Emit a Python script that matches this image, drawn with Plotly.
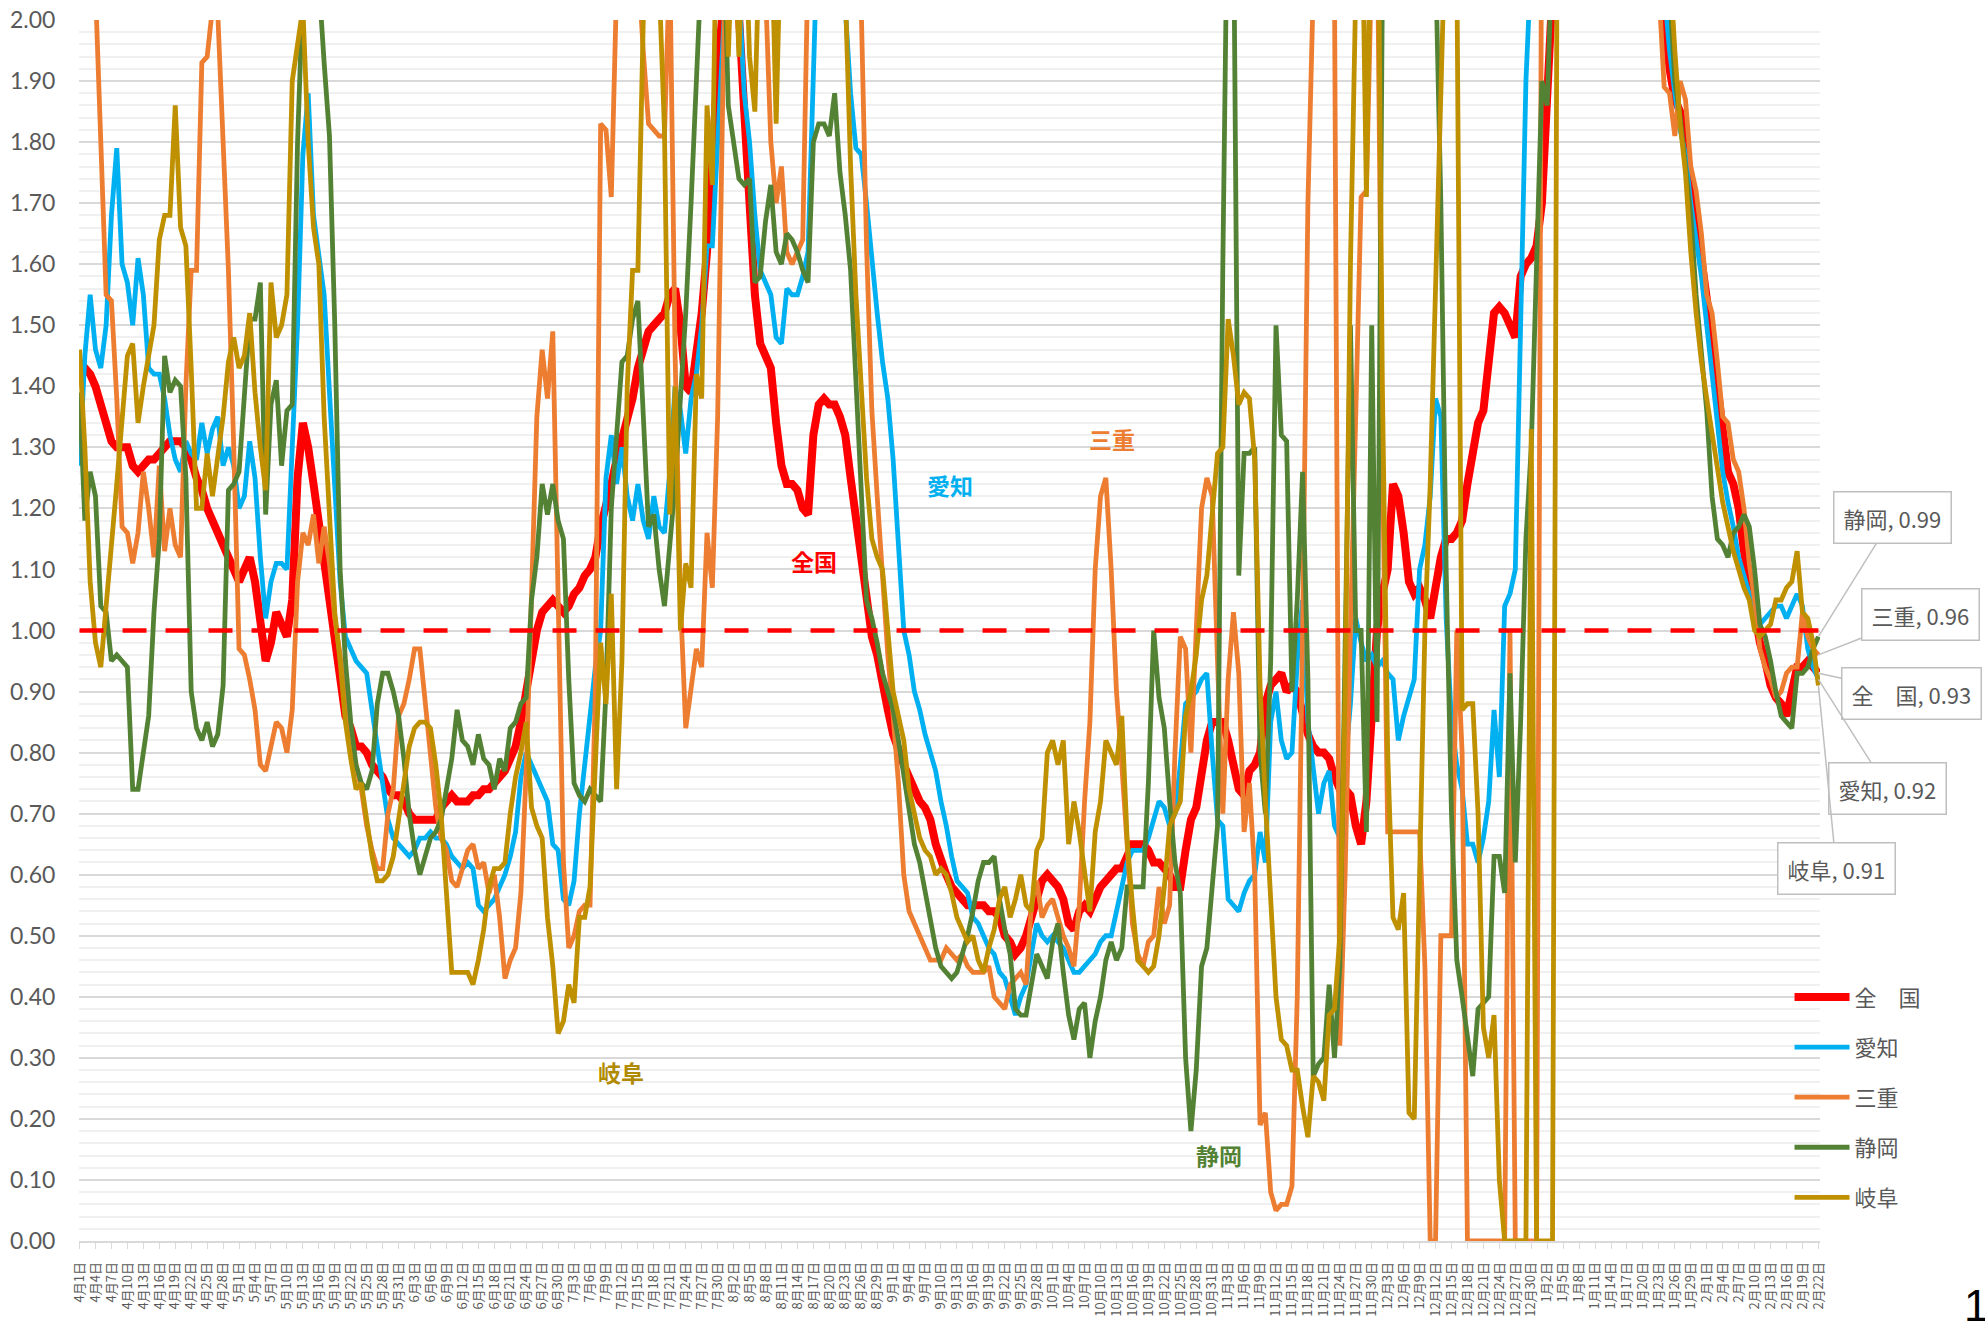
import plotly.graph_objects as go
import pandas as pd

# ---- categories (daily, 2020-04-01 .. 2021-02-22) ----
dates = [f"{d.month}月{d.day}日" for d in pd.date_range("2020-04-01", "2021-02-22", freq="D")]

# ---- series values (values above 2.00 are off-scale) ----
zenkoku = [
 1.44,1.43,1.42,1.40,1.37,1.35,1.31,1.30,1.30,1.30,
 1.27,1.26,1.27,1.28,1.28,1.29,1.30,1.31,1.31,1.31,
 1.30,1.28,1.25,1.23,1.20,1.18,1.16,1.14,1.12,1.10,
 1.08,1.10,1.12,1.08,1.02,0.95,0.98,1.03,1.01,0.99,
 1.05,1.25,1.34,1.30,1.24,1.18,1.11,1.04,0.98,0.92,
 0.86,0.84,0.81,0.81,0.80,0.78,0.77,0.76,0.74,0.73,
 0.73,0.72,0.70,0.69,0.69,0.69,0.69,0.69,0.71,0.72,
 0.73,0.72,0.72,0.72,0.73,0.73,0.74,0.74,0.75,0.76,
 0.77,0.79,0.81,0.85,0.90,0.95,1.00,1.03,1.04,1.05,
 1.04,1.03,1.04,1.06,1.07,1.09,1.10,1.12,1.17,1.20,
 1.24,1.28,1.31,1.34,1.38,1.43,1.46,1.49,1.50,1.51,
 1.52,1.55,1.56,1.50,1.40,1.39,1.45,1.52,1.62,1.78,
 1.92,2.02,2.15,2.10,2.01,1.85,1.70,1.55,1.47,1.45,
 1.43,1.34,1.27,1.24,1.24,1.23,1.20,1.19,1.32,1.37,
 1.38,1.37,1.37,1.35,1.32,1.25,1.18,1.12,1.06,0.99,
 0.96,0.91,0.87,0.83,0.80,0.78,0.76,0.74,0.72,0.71,
 0.69,0.65,0.62,0.60,0.58,0.57,0.56,0.55,0.55,0.55,
 0.55,0.54,0.54,0.53,0.50,0.49,0.47,0.48,0.50,0.53,
 0.56,0.59,0.60,0.59,0.58,0.56,0.52,0.51,0.54,0.55,
 0.54,0.56,0.58,0.59,0.60,0.61,0.61,0.63,0.65,0.65,
 0.65,0.64,0.62,0.62,0.61,0.60,0.58,0.58,0.64,0.69,
 0.71,0.76,0.82,0.85,0.85,0.85,0.82,0.78,0.74,0.73,
 0.77,0.78,0.80,0.88,0.91,0.92,0.93,0.90,0.91,0.90,
 0.86,0.83,0.81,0.80,0.80,0.79,0.76,0.74,0.74,0.73,
 0.68,0.65,0.72,0.85,1.00,1.06,1.10,1.24,1.22,1.16,
 1.08,1.06,1.07,1.05,1.02,1.07,1.12,1.15,1.15,1.16,
 1.18,1.24,1.30,1.34,1.36,1.44,1.52,1.53,1.52,1.50,
 1.48,1.58,1.60,1.61,1.63,1.70,1.85,2.05,2.30,2.50,
 2.60,2.70,2.70,2.60,2.60,2.50,2.50,2.40,2.40,2.40,
 2.30,2.30,2.30,2.20,2.20,2.20,2.10,2.10,2.02,1.92,
 1.87,1.85,1.80,1.74,1.68,1.62,1.56,1.48,1.40,1.32,
 1.26,1.24,1.20,1.13,1.08,1.03,0.98,0.95,0.91,0.89,
 0.88,0.86,0.90,0.94,0.94,0.95,0.94,0.93]

aichi = [
 1.27,1.45,1.55,1.46,1.43,1.50,1.68,1.79,1.60,1.57,
 1.50,1.61,1.55,1.43,1.42,1.42,1.38,1.32,1.28,1.26,
 1.31,1.29,1.28,1.34,1.29,1.33,1.35,1.27,1.30,1.27,
 1.20,1.22,1.31,1.25,1.12,1.02,1.08,1.11,1.11,1.10,
 1.30,1.50,1.78,1.88,1.68,1.62,1.55,1.39,1.25,1.08,
 0.99,0.97,0.95,0.94,0.93,0.87,0.81,0.74,0.69,0.66,
 0.65,0.64,0.63,0.64,0.66,0.66,0.67,0.66,0.66,0.65,
 0.63,0.62,0.61,0.62,0.61,0.55,0.54,0.55,0.56,0.58,
 0.60,0.63,0.67,0.76,0.80,0.78,0.76,0.74,0.72,0.65,
 0.64,0.56,0.55,0.59,0.70,0.78,0.86,0.94,1.00,1.25,
 1.32,1.24,1.30,1.22,1.18,1.24,1.18,1.15,1.22,1.17,
 1.16,1.26,1.40,1.36,1.29,1.38,1.42,1.50,1.63,1.63,
 1.80,2.00,2.20,2.30,2.05,1.88,1.80,1.68,1.59,1.57,
 1.55,1.48,1.47,1.56,1.55,1.55,1.58,1.62,1.95,2.20,
 2.30,2.40,2.30,2.20,2.02,1.88,1.79,1.78,1.70,1.60,
 1.52,1.44,1.38,1.28,1.15,1.00,0.96,0.90,0.87,0.83,
 0.80,0.77,0.72,0.68,0.63,0.59,0.58,0.57,0.53,0.52,
 0.50,0.48,0.47,0.44,0.43,0.40,0.37,0.40,0.42,0.47,
 0.52,0.50,0.49,0.50,0.49,0.48,0.46,0.44,0.44,0.45,
 0.46,0.47,0.49,0.50,0.50,0.54,0.58,0.62,0.64,0.64,
 0.64,0.66,0.69,0.72,0.71,0.68,0.70,0.78,0.88,0.89,
 0.90,0.92,0.93,0.80,0.69,0.68,0.56,0.55,0.54,0.57,
 0.59,0.60,0.67,0.62,0.85,0.90,0.82,0.79,0.80,0.95,
 1.05,0.85,0.78,0.70,0.75,0.77,0.68,0.66,0.78,0.88,
 1.02,0.98,0.95,0.96,0.94,0.95,0.93,0.92,0.82,0.86,
 0.89,0.92,1.10,1.14,1.22,1.38,1.35,1.02,0.85,0.78,
 0.74,0.65,0.65,0.62,0.66,0.72,0.87,0.76,1.04,1.06,
 1.10,1.48,1.90,2.10,2.30,2.40,2.50,2.60,2.60,2.70,
 2.70,2.60,2.60,2.50,2.50,2.40,2.40,2.40,2.30,2.30,
 2.30,2.20,2.20,2.20,2.10,2.10,2.10,2.10,2.05,1.95,
 1.88,1.82,1.78,1.70,1.64,1.58,1.50,1.42,1.34,1.26,
 1.21,1.17,1.12,1.09,1.06,1.02,1.01,1.02,1.03,1.04,
 1.04,1.02,1.04,1.06,1.04,0.97,0.94,0.92]

mie = [
 2.60,2.50,2.30,2.05,1.75,1.55,1.54,1.38,1.17,1.16,
 1.11,1.16,1.26,1.20,1.12,1.27,1.13,1.20,1.14,1.12,
 1.40,1.59,1.59,1.93,1.94,2.02,2.01,1.80,1.59,1.30,
 0.97,0.96,0.92,0.87,0.78,0.77,0.81,0.85,0.84,0.80,
 0.87,1.08,1.16,1.14,1.19,1.11,1.17,1.11,1.02,0.96,
 0.88,0.82,0.78,0.74,0.68,0.64,0.61,0.61,0.70,0.74,
 0.86,0.88,0.92,0.97,0.97,0.88,0.78,0.71,0.66,0.64,
 0.59,0.58,0.61,0.64,0.65,0.61,0.62,0.57,0.60,0.53,
 0.43,0.46,0.48,0.57,0.77,1.05,1.35,1.46,1.38,1.49,
 1.05,0.62,0.48,0.50,0.54,0.55,0.55,0.90,1.83,1.82,
 1.71,2.20,2.40,2.30,2.20,2.10,1.95,1.83,1.82,1.81,
 1.81,2.10,1.45,1.05,0.84,0.90,0.97,0.94,1.16,1.07,
 1.35,1.90,2.30,2.40,2.50,2.40,2.30,2.20,2.10,2.05,
 1.80,1.70,1.76,1.62,1.60,1.62,1.64,2.10,2.30,2.50,
 2.60,2.60,2.50,2.40,2.30,2.20,2.10,2.02,1.63,1.36,
 1.22,1.08,0.96,0.86,0.75,0.60,0.54,0.52,0.50,0.48,
 0.46,0.46,0.46,0.48,0.47,0.46,0.47,0.45,0.44,0.44,
 0.44,0.45,0.40,0.39,0.38,0.42,0.43,0.44,0.42,0.55,
 0.59,0.53,0.55,0.56,0.53,0.50,0.48,0.45,0.55,0.72,
 0.85,1.10,1.22,1.25,1.10,0.90,0.78,0.65,0.52,0.47,
 0.45,0.49,0.50,0.58,0.52,0.55,0.80,0.99,0.97,0.80,
 1.00,1.20,1.25,1.22,0.95,0.70,0.92,1.03,0.93,0.67,
 0.75,0.60,0.19,0.21,0.08,0.05,0.06,0.06,0.09,0.40,
 1.00,1.70,2.05,2.30,2.40,2.20,2.05,0.32,0.60,1.00,
 1.40,1.71,1.72,2.10,2.20,1.30,0.67,0.67,0.67,0.67,
 0.67,0.67,0.67,0.45,0.00,0.00,0.50,0.50,0.50,1.00,
 0.80,0.00,0.00,0.00,0.00,0.00,0.00,0.00,0.00,1.00,
 0.00,0.00,0.00,0.00,0.00,2.30,2.50,2.60,2.60,2.50,
 2.50,2.40,2.40,2.40,2.30,2.30,2.30,2.20,2.20,2.20,
 2.20,2.10,2.10,2.10,2.05,2.05,2.05,2.05,1.89,1.88,
 1.81,1.90,1.87,1.76,1.72,1.65,1.55,1.52,1.44,1.35,
 1.34,1.28,1.26,1.20,1.11,1.05,0.97,0.94,0.92,0.89,
 0.90,0.93,0.94,0.94,1.03,0.99,0.97,0.96]

shizuoka = [
 1.39,1.18,1.26,1.22,1.04,1.03,0.95,0.96,0.95,0.94,
 0.74,0.74,0.80,0.86,1.03,1.15,1.45,1.39,1.41,1.40,
 1.25,0.90,0.84,0.82,0.85,0.81,0.83,0.91,1.23,1.24,
 1.26,1.40,1.51,1.51,1.57,1.19,1.37,1.41,1.27,1.36,
 1.37,1.80,2.05,2.30,2.20,2.05,1.93,1.81,1.50,1.10,
 0.95,0.85,0.78,0.75,0.74,0.77,0.88,0.93,0.93,0.90,
 0.86,0.79,0.70,0.64,0.60,0.63,0.66,0.67,0.69,0.74,
 0.79,0.87,0.82,0.81,0.78,0.83,0.79,0.78,0.74,0.79,
 0.77,0.84,0.85,0.88,0.89,1.05,1.12,1.24,1.19,1.24,
 1.18,1.15,0.92,0.75,0.73,0.72,0.74,0.73,0.72,0.90,
 1.20,1.32,1.44,1.45,1.51,1.54,1.34,1.17,1.19,1.10,
 1.04,1.13,1.24,1.38,1.52,1.70,1.88,2.05,2.30,2.50,
 2.40,2.20,1.86,1.80,1.74,1.73,1.74,1.57,1.58,1.67,
 1.73,1.62,1.60,1.65,1.64,1.62,1.59,1.57,1.80,1.83,
 1.83,1.81,1.88,1.75,1.68,1.59,1.40,1.20,1.05,1.02,
 0.98,0.93,0.90,0.87,0.82,0.76,0.70,0.65,0.62,0.57,
 0.53,0.48,0.45,0.44,0.43,0.44,0.47,0.50,0.54,0.59,
 0.62,0.62,0.63,0.56,0.51,0.47,0.38,0.37,0.37,0.42,
 0.47,0.45,0.43,0.49,0.52,0.44,0.37,0.33,0.38,0.39,
 0.30,0.36,0.40,0.46,0.49,0.46,0.48,0.58,0.58,0.58,
 0.58,0.75,1.00,0.89,0.84,0.72,0.62,0.57,0.30,0.18,
 0.28,0.45,0.48,0.58,0.68,1.60,2.30,2.20,1.09,1.29,
 1.29,1.30,0.80,0.70,0.95,1.50,1.32,1.31,0.90,1.05,
 1.26,0.92,0.27,0.29,0.30,0.42,0.30,0.45,1.00,1.50,
 1.00,1.00,0.67,1.50,0.85,2.05,2.30,2.50,2.40,2.60,
 2.50,2.30,2.40,2.50,2.30,2.10,1.70,1.10,0.70,0.46,
 0.40,0.34,0.27,0.38,0.39,0.40,0.63,0.63,0.57,0.93,
 0.62,0.85,1.15,1.30,1.60,1.90,1.86,2.20,2.40,2.50,
 2.60,2.60,2.70,2.60,2.60,2.50,2.50,2.40,2.40,2.40,
 2.30,2.30,2.30,2.20,2.20,2.20,2.10,2.10,2.10,2.05,
 1.90,1.84,1.76,1.68,1.55,1.45,1.36,1.22,1.15,1.14,
 1.12,1.16,1.17,1.19,1.17,1.10,1.01,0.99,0.95,0.90,
 0.86,0.85,0.84,0.93,0.93,0.94,0.97,0.99]

gifu = [
 1.46,1.30,1.08,0.98,0.94,1.05,1.14,1.24,1.35,1.45,
 1.47,1.34,1.40,1.45,1.50,1.64,1.68,1.68,1.86,1.66,
 1.63,1.43,1.20,1.20,1.29,1.22,1.29,1.35,1.44,1.48,
 1.43,1.45,1.52,1.39,1.30,1.23,1.57,1.48,1.50,1.55,
 1.90,1.96,2.02,1.80,1.66,1.60,1.35,1.19,1.03,0.95,
 0.85,0.79,0.74,0.75,0.69,0.63,0.59,0.59,0.60,0.63,
 0.69,0.75,0.81,0.84,0.85,0.85,0.84,0.78,0.70,0.57,
 0.44,0.44,0.44,0.44,0.42,0.46,0.51,0.58,0.61,0.61,
 0.62,0.70,0.76,0.80,0.85,0.71,0.68,0.66,0.53,0.45,
 0.34,0.36,0.42,0.39,0.53,0.53,0.58,0.80,0.98,0.88,
 1.06,0.74,0.95,1.40,1.59,1.59,2.20,2.40,2.30,2.05,
 1.82,1.19,1.40,1.00,1.11,1.07,1.42,1.38,1.86,1.73,
 2.30,2.40,1.94,2.20,1.94,2.20,1.94,1.85,2.30,2.50,
 2.20,1.83,2.20,2.40,2.60,2.50,2.60,2.70,2.60,2.50,
 2.40,2.40,2.30,2.20,2.05,1.76,1.55,1.40,1.25,1.15,
 1.12,1.10,1.00,0.90,0.86,0.82,0.74,0.70,0.66,0.64,
 0.63,0.60,0.61,0.60,0.57,0.53,0.51,0.49,0.50,0.46,
 0.44,0.48,0.51,0.56,0.58,0.53,0.56,0.60,0.55,0.54,
 0.64,0.66,0.80,0.82,0.78,0.82,0.65,0.72,0.67,0.60,
 0.54,0.67,0.72,0.82,0.80,0.78,0.86,0.66,0.55,0.46,
 0.45,0.44,0.45,0.50,0.58,0.68,0.70,0.72,0.86,0.90,
 0.96,1.05,1.09,1.20,1.29,1.30,1.51,1.45,1.37,1.39,
 1.38,1.28,0.91,0.72,0.55,0.40,0.33,0.32,0.28,0.28,
 0.22,0.17,0.27,0.26,0.23,0.37,0.38,0.50,0.90,1.60,
 2.05,2.30,1.71,2.30,2.40,1.40,0.80,0.53,0.51,0.57,
 0.21,0.20,0.60,1.00,1.24,1.60,1.95,2.20,2.30,2.10,
 0.87,0.88,0.88,0.70,0.35,0.30,0.37,0.10,0.00,0.00,
 0.00,0.00,0.00,1.33,0.00,0.00,0.00,0.00,2.50,2.60,
 2.60,2.70,2.70,2.60,2.60,2.50,2.50,2.40,2.40,2.40,
 2.30,2.30,2.30,2.20,2.20,2.20,2.10,2.10,2.10,2.10,
 1.95,1.83,1.75,1.62,1.52,1.44,1.38,1.32,1.26,1.21,
 1.17,1.13,1.10,1.07,1.05,1.00,0.99,1.00,1.01,1.05,
 1.05,1.07,1.08,1.13,1.03,1.02,0.98,0.91]

names = ["全　国", "愛知", "三重", "静岡", "岐阜"]
values = [zenkoku, aichi, mie, shizuoka, gifu]
threshold = 1.0
y_ticks = [round(i * 0.1, 1) for i in range(21)]

for n, v in zip(names, values):
    assert len(v) == len(dates), (n, len(v), len(dates))

colors = ["#FF0000", "#00B0F0", "#ED7D31", "#548235", "#BF9000"]
widths = [8, 4.8, 4.8, 4.8, 4.8]
GRAY = "#595959"
JP = "Noto Sans CJK JP"

# plot area in page pixels
L, R, T, B = 78.5, 1820.5, 19.5, 1240.6
W, H = 1985, 1326

fig = go.Figure()

for i, (n, v) in enumerate(zip(names, values)):
    fig.add_trace(go.Scatter(
        x=dates, y=v, mode="lines", name=n, legendgroup=f"g{i}",
        line=dict(color=colors[i], width=widths[i]),
    ))

# reference line at 1.00
fig.add_trace(go.Scatter(
    x=[dates[0], dates[-1]], y=[threshold, threshold], mode="lines",
    line=dict(color="#FF0000", width=4.5, dash="24px,19px"),
    showlegend=False, hoverinfo="skip"))

# end-point callouts
offsets = {"静岡": (74, -119), "三重": (102, -40), "全　国": (93, 20),
           "愛知": (69, 109), "岐阜": (18, 183)}
for n, v in zip(names, values):
    ax, ay = offsets[n]
    fig.add_annotation(
        x=dates[-1], y=v[-1], xref="x", yref="y",
        text=f"{n}, {v[-1]:.2f}", showarrow=True, arrowhead=0,
        arrowcolor="#BFBFBF", arrowwidth=1.5, ax=ax, ay=ay, standoff=0,
        font=dict(family=JP, size=22, color=GRAY),
        bgcolor="white", bordercolor="#BFBFBF", borderwidth=1.5, borderpad=9)

# in-chart series labels (positions in paper fraction)
def px(xp, yp):
    return (xp - L) / (R - L), (B - yp) / (B - T)

labels = [("三重", colors[2], 1112, 439), ("愛知", colors[1], 950, 485),
          ("全国", colors[0], 814, 561), ("岐阜", "#B08A00", 596, 1091),
          ("静岡", colors[3], 1219, 1174)]
for t, c, xp, yp in labels:
    xx, yy = px(xp, yp)
    fig.add_annotation(x=xx, y=yy, xref="paper", yref="paper", text=f"<b>{t}</b>",
                       showarrow=False, font=dict(family=JP, size=23, color=c))

xx, yy = px(1963, 1305)
fig.add_annotation(x=xx, y=yy, xref="paper", yref="paper", text="1", showarrow=False,
                   xanchor="left", yanchor="middle",
                   font=dict(family="Liberation Sans", size=44, color="black"))

fig.update_layout(
    width=W, height=H,
    margin=dict(l=L, r=W - R, t=T, b=H - B, autoexpand=False),
    paper_bgcolor="white", plot_bgcolor="white",
    showlegend=True,
    legend=dict(x=0.9825, y=0.2169, xanchor="left", yanchor="top",
                font=dict(family=JP, size=22, color=GRAY),
                bgcolor="rgba(0,0,0,0)", tracegroupgap=18.5, itemwidth=55),
    xaxis=dict(type="category", categoryorder="array", categoryarray=dates,
               range=[-0.1, 327.3], automargin=False,
               tickmode="array", tickvals=dates[::3], ticktext=dates[::3],
               tickangle=-90, tickfont=dict(family=JP, size=13, color=GRAY),
               ticks="outside", ticklen=6, tickcolor="#D9D9D9", ticklabelstandoff=8,
               showgrid=False, showline=True, linecolor="#D9D9D9", linewidth=1.5,
               zeroline=False),
    yaxis=dict(range=[0, 2.0], automargin=False, tickmode="array", tickvals=y_ticks,
               tickformat=".2f", tickfont=dict(family="Lato", size=23, color=GRAY),
               showgrid=True, gridcolor="#D9D9D9", gridwidth=1.5,
               minor=dict(dtick=0.02, showgrid=True, gridcolor="#F0F0F0", gridwidth=1.5),
               ticks="outside", ticklen=18, tickcolor="rgba(0,0,0,0)",
               zeroline=False, showline=False),
)

fig.write_html("out.html", config={"displayModeBar": False},
               post_script="document.body.style.margin='0px';")
